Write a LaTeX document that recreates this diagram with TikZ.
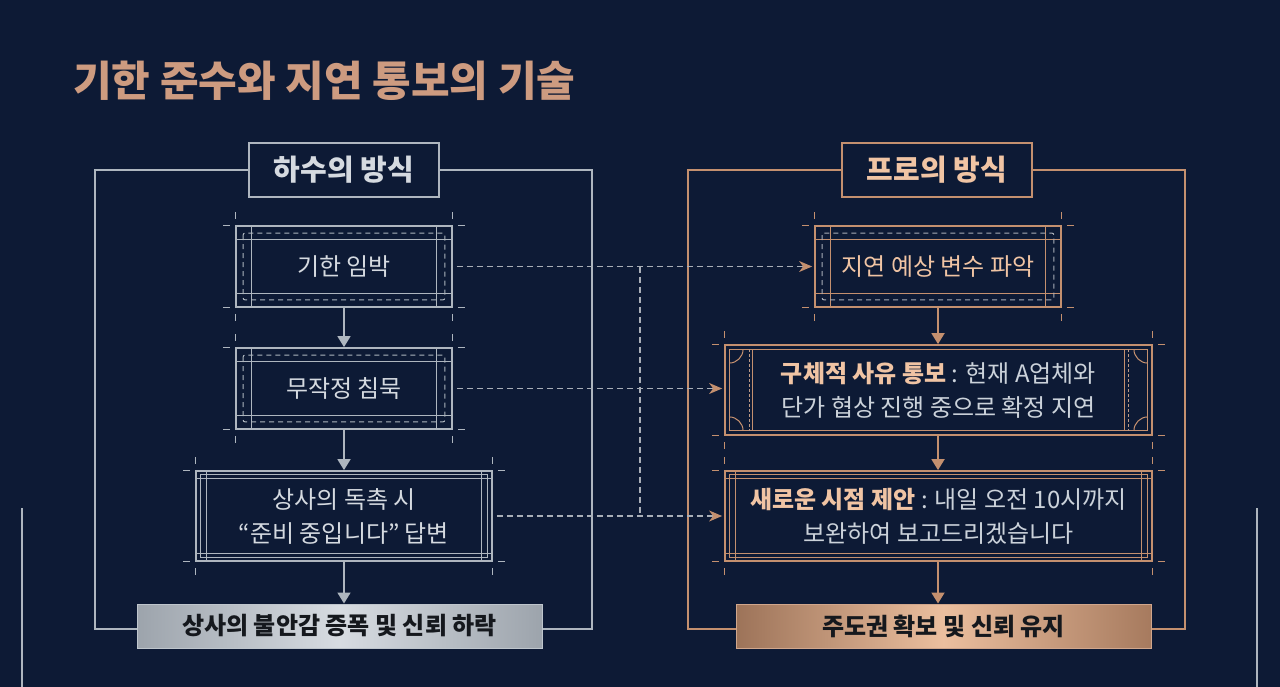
\documentclass[tikz,border=0pt]{standalone}
\usepackage{fontspec}
\setmainfont{Noto Sans CJK KR}
\usetikzlibrary{arrows.meta,calc}
\definecolor{bg}{HTML}{0D1A35}
\definecolor{silv}{HTML}{AEB6BF}
\definecolor{silvtxt}{HTML}{D5DAE0}
\definecolor{copl}{HTML}{C4906F}
\definecolor{coptxt}{HTML}{F0C4A4}
\definecolor{greytxt}{HTML}{CBD2DA}
\definecolor{dashc}{HTML}{A9AFB8}
\definecolor{titlec}{HTML}{CD9B80}
\definecolor{darktxt}{HTML}{15181D}
\newcommand\tickmarks[2]{%
  \draw[#2, line width=1pt]
    ($(#1.north west)+(0,-13)$) -- ($(#1.north west)+(0,-6)$)
    ($(#1.north east)+(0,-13)$) -- ($(#1.north east)+(0,-6)$)
    ($(#1.south west)+(0,6)$) -- ($(#1.south west)+(0,13)$)
    ($(#1.south east)+(0,6)$) -- ($(#1.south east)+(0,13)$)
    ($(#1.north west)+(-12,0)$) -- ($(#1.north west)+(-5,0)$)
    ($(#1.south west)+(-12,0)$) -- ($(#1.south west)+(-5,0)$)
    ($(#1.north east)+(5,0)$) -- ($(#1.north east)+(12,0)$)
    ($(#1.south east)+(5,0)$) -- ($(#1.south east)+(12,0)$);}
\newcommand\decoA[3]{% node, line colour, dash colour
  \draw[#2, line width=1.1pt]
    ($(#1.north west)+(0,14)$) -- ($(#1.north east)+(0,14)$)
    ($(#1.south west)+(0,-14)$) -- ($(#1.south east)+(0,-14)$)
    ($(#1.north west)+(16,0)$) -- ($(#1.south west)+(16,0)$)
    ($(#1.north east)+(-16,0)$) -- ($(#1.south east)+(-16,0)$);
  \draw[#3, line width=1pt, dash pattern=on 5pt off 4pt, rounded corners=2pt]
    ($(#1.north west)+(8,8)$) rectangle ($(#1.south east)+(-8,-8)$);
  \tickmarks{#1}{#2}}
\newcommand\decoB[2]{%
  \draw[#2, line width=1.1pt]
    ($(#1.north west)+(5,4)$) rectangle ($(#1.south east)+(-5,-4)$)
    ($(#1.north west)+(0,8)$) -- ($(#1.north east)+(0,8)$)
    ($(#1.south west)+(0,-8)$) -- ($(#1.south east)+(0,-8)$)
    ($(#1.north west)+(11,0)$) -- ($(#1.south west)+(11,0)$)
    ($(#1.north east)+(-11,0)$) -- ($(#1.south east)+(-11,0)$);
  \tickmarks{#1}{#2}}
\newcommand\cornerarc[4]{% colour, point, dx, dy
  \draw[#1, line width=1pt] ($(#2)+(0,#4)$) .. controls ($(#2)+(0.55*#3,#4)$) and ($(#2)+(#3,0.55*#4)$) .. ($(#2)+(#3,0)$);}
\begin{document}
\begin{tikzpicture}[x=1pt,y=-1pt,
  every node/.style={inner sep=0pt, align=center},
  boxtxt/.style={font=\fontsize{24}{34}\selectfont},
  silbox/.style={draw=silv, line width=1.8pt, fill=bg, boxtxt, text=silvtxt},
  copbox/.style={draw=copl, line width=1.8pt, fill=bg, boxtxt, text=greytxt},
  headbox/.style={fill=bg, line width=1.8pt, minimum width=190pt, minimum height=54pt,
                  font=\fontsize{29}{32}\selectfont\bfseries},
  frameS/.style={draw=silv, line width=1.8pt},
  frameC/.style={draw=copl, line width=1.8pt},
  varrowS/.style={draw=silv, line width=1.8pt, -{Triangle[width=13pt,length=11pt]}},
  varrowC/.style={draw=copl, line width=1.8pt, -{Triangle[width=13pt,length=11pt]}},
  darrow/.style={draw=dashc, line width=1.2pt, dash pattern=on 6pt off 4pt},
  darrowtip/.style={darrow, -{Stealth[length=13pt,width=11pt,inset=4pt,color=copl,fill=copl]}},
]
\fill[bg] (0,0) rectangle (1280,687);
\useasboundingbox (0,0) rectangle (1280,687);

% title
\node[anchor=west, text=titlec, font=\fontsize{42}{45}\selectfont\bfseries] (title) at (73,81) {기한 준수와 지연 통보의 기술};

% side lines
\coordinate (sl1) at (22,508); \coordinate (sl2) at (22,687);
\coordinate (sr1) at (1257,508); \coordinate (sr2) at (1257,687);
\draw[draw=silv, line width=1.6pt] (sl1) -- (sl2);
\draw[draw=silv, line width=1.6pt] (sr1) -- (sr2);

% ---------- left panel ----------
\coordinate (Ltl) at (95,170); \coordinate (Lbl) at (95,629);
\coordinate (Ltr) at (592,170); \coordinate (Lbr) at (592,629);
\node[headbox, draw=silv, text=silvtxt] (hL) at (344,170) {하수의 방식};
\node[minimum width=405pt, minimum height=44pt, draw=silv!80!white, line width=1pt,
      left color=silv!90!black, right color=silv!90!black, middle color=silvtxt!95!white,
      text=darktxt, font=\fontsize{24}{26}\selectfont\bfseries] (LB) at (339.5,626) {상사의 불안감 증폭 및 신뢰 하락};
\draw[frameS] (hL.west) -- (Ltl) -- (Lbl) -- (Lbl -| LB.west);
\draw[frameS] (hL.east) -- (Ltr) -- (Lbr) -- (Lbr -| LB.east);

\node[silbox, minimum width=216pt, minimum height=81pt] (L1) at (344,266.5) {기한 임박};
\decoA{L1}{silv}{silv}
\node[silbox, minimum width=216pt, minimum height=81pt] (L2) at (344,388.5) {무작정 침묵};
\decoA{L2}{silv}{silv}
\node[silbox, minimum width=296pt, minimum height=90pt] (L3) at (344,516) {상사의 독촉 시\\“준비 중입니다” 답변};
\decoB{L3}{silv}

\draw[varrowS] (L1.south) -- (L2.north);
\draw[varrowS] (L2.south) -- (L3.north);
\draw[varrowS] (L3.south) -- (L3.south |- LB.north);

% ---------- right panel ----------
\coordinate (Rtl) at (688,170); \coordinate (Rbl) at (688,629);
\coordinate (Rtr) at (1185,170); \coordinate (Rbr) at (1185,629);
\node[headbox, draw=copl, text=coptxt] (hR) at (937,170) {프로의 방식};
\node[minimum width=415pt, minimum height=44pt, draw=copl!80!white, line width=1pt,
      left color=copl!80!black, right color=copl!85!black, middle color=coptxt!90!copl,
      text=darktxt, font=\fontsize{24}{26}\selectfont\bfseries] (RB) at (943.5,626) {주도권 확보 및 신뢰 유지};
\draw[frameC] (hR.west) -- (Rtl) -- (Rbl) -- (Rbl -| RB.west);
\draw[frameC] (hR.east) -- (Rtr) -- (Rbr) -- (Rbr -| RB.east);

\node[copbox, text=coptxt, minimum width=246pt, minimum height=81pt] (R1) at (938,266.5) {지연 예상 변수 파악};
\decoA{R1}{copl}{dashc}
\node[copbox, minimum width=427pt, minimum height=90pt] (R2) at (938.5,390) {{\color{coptxt}\bfseries 구체적 사유 통보} : 현재 A업체와\\단가 협상 진행 중으로 확정 지연};
\draw[copl, line width=1.1pt]
  ($(R2.north west)+(5,5)$) rectangle ($(R2.south east)+(-5,-5)$)
  ($(R2.north west)+(28,5)$) -- ($(R2.south west)+(28,-5)$)
  ($(R2.north east)+(-28,5)$) -- ($(R2.south east)+(-28,-5)$);
\draw[copl!70!dashc, line width=0.8pt, dash pattern=on 3pt off 2pt]
  ($(R2.north west)+(25,5)$) -- ($(R2.south west)+(25,-5)$)
  ($(R2.north east)+(-25,5)$) -- ($(R2.south east)+(-25,-5)$);
\coordinate (c1) at ($(R2.north west)+(5,5)$);
\coordinate (c2) at ($(R2.north east)+(-5,5)$);
\coordinate (c3) at ($(R2.south west)+(5,-5)$);
\coordinate (c4) at ($(R2.south east)+(-5,-5)$);
\cornerarc{copl}{c1}{14}{14}
\cornerarc{copl}{c2}{-14}{14}
\cornerarc{copl}{c3}{14}{-14}
\cornerarc{copl}{c4}{-14}{-14}
\tickmarks{R2}{copl}
\node[copbox, minimum width=427pt, minimum height=90pt] (R3) at (938.5,516) {{\color{coptxt}\bfseries 새로운 시점 제안} : 내일 오전 10시까지\\보완하여 보고드리겠습니다};
\decoB{R3}{copl}

\draw[varrowC] (R1.south) -- (R1.south |- R2.north);
\draw[varrowC] (R1.south |- R2.south) -- (R1.south |- R3.north);
\draw[varrowC] (R1.south |- R3.south) -- (R1.south |- RB.north);

% ---------- dashed connectors ----------
\coordinate (vx) at (640,0);
\draw[darrowtip] ($(L1.east)+(4,0)$) -- ($(R1.west)+(-2,0)$);
\draw[darrowtip] ($(L2.east)+(4,0)$) -- ($(L2.east -| R2.west)+(-2,0)$);
\draw[darrowtip] ($(L3.east)+(4,0)$) -- ($(L3.east -| R3.west)+(-2,0)$);
\draw[darrow] (L1.east -| vx) -- (L3.east -| vx);
\end{tikzpicture}
\end{document}
